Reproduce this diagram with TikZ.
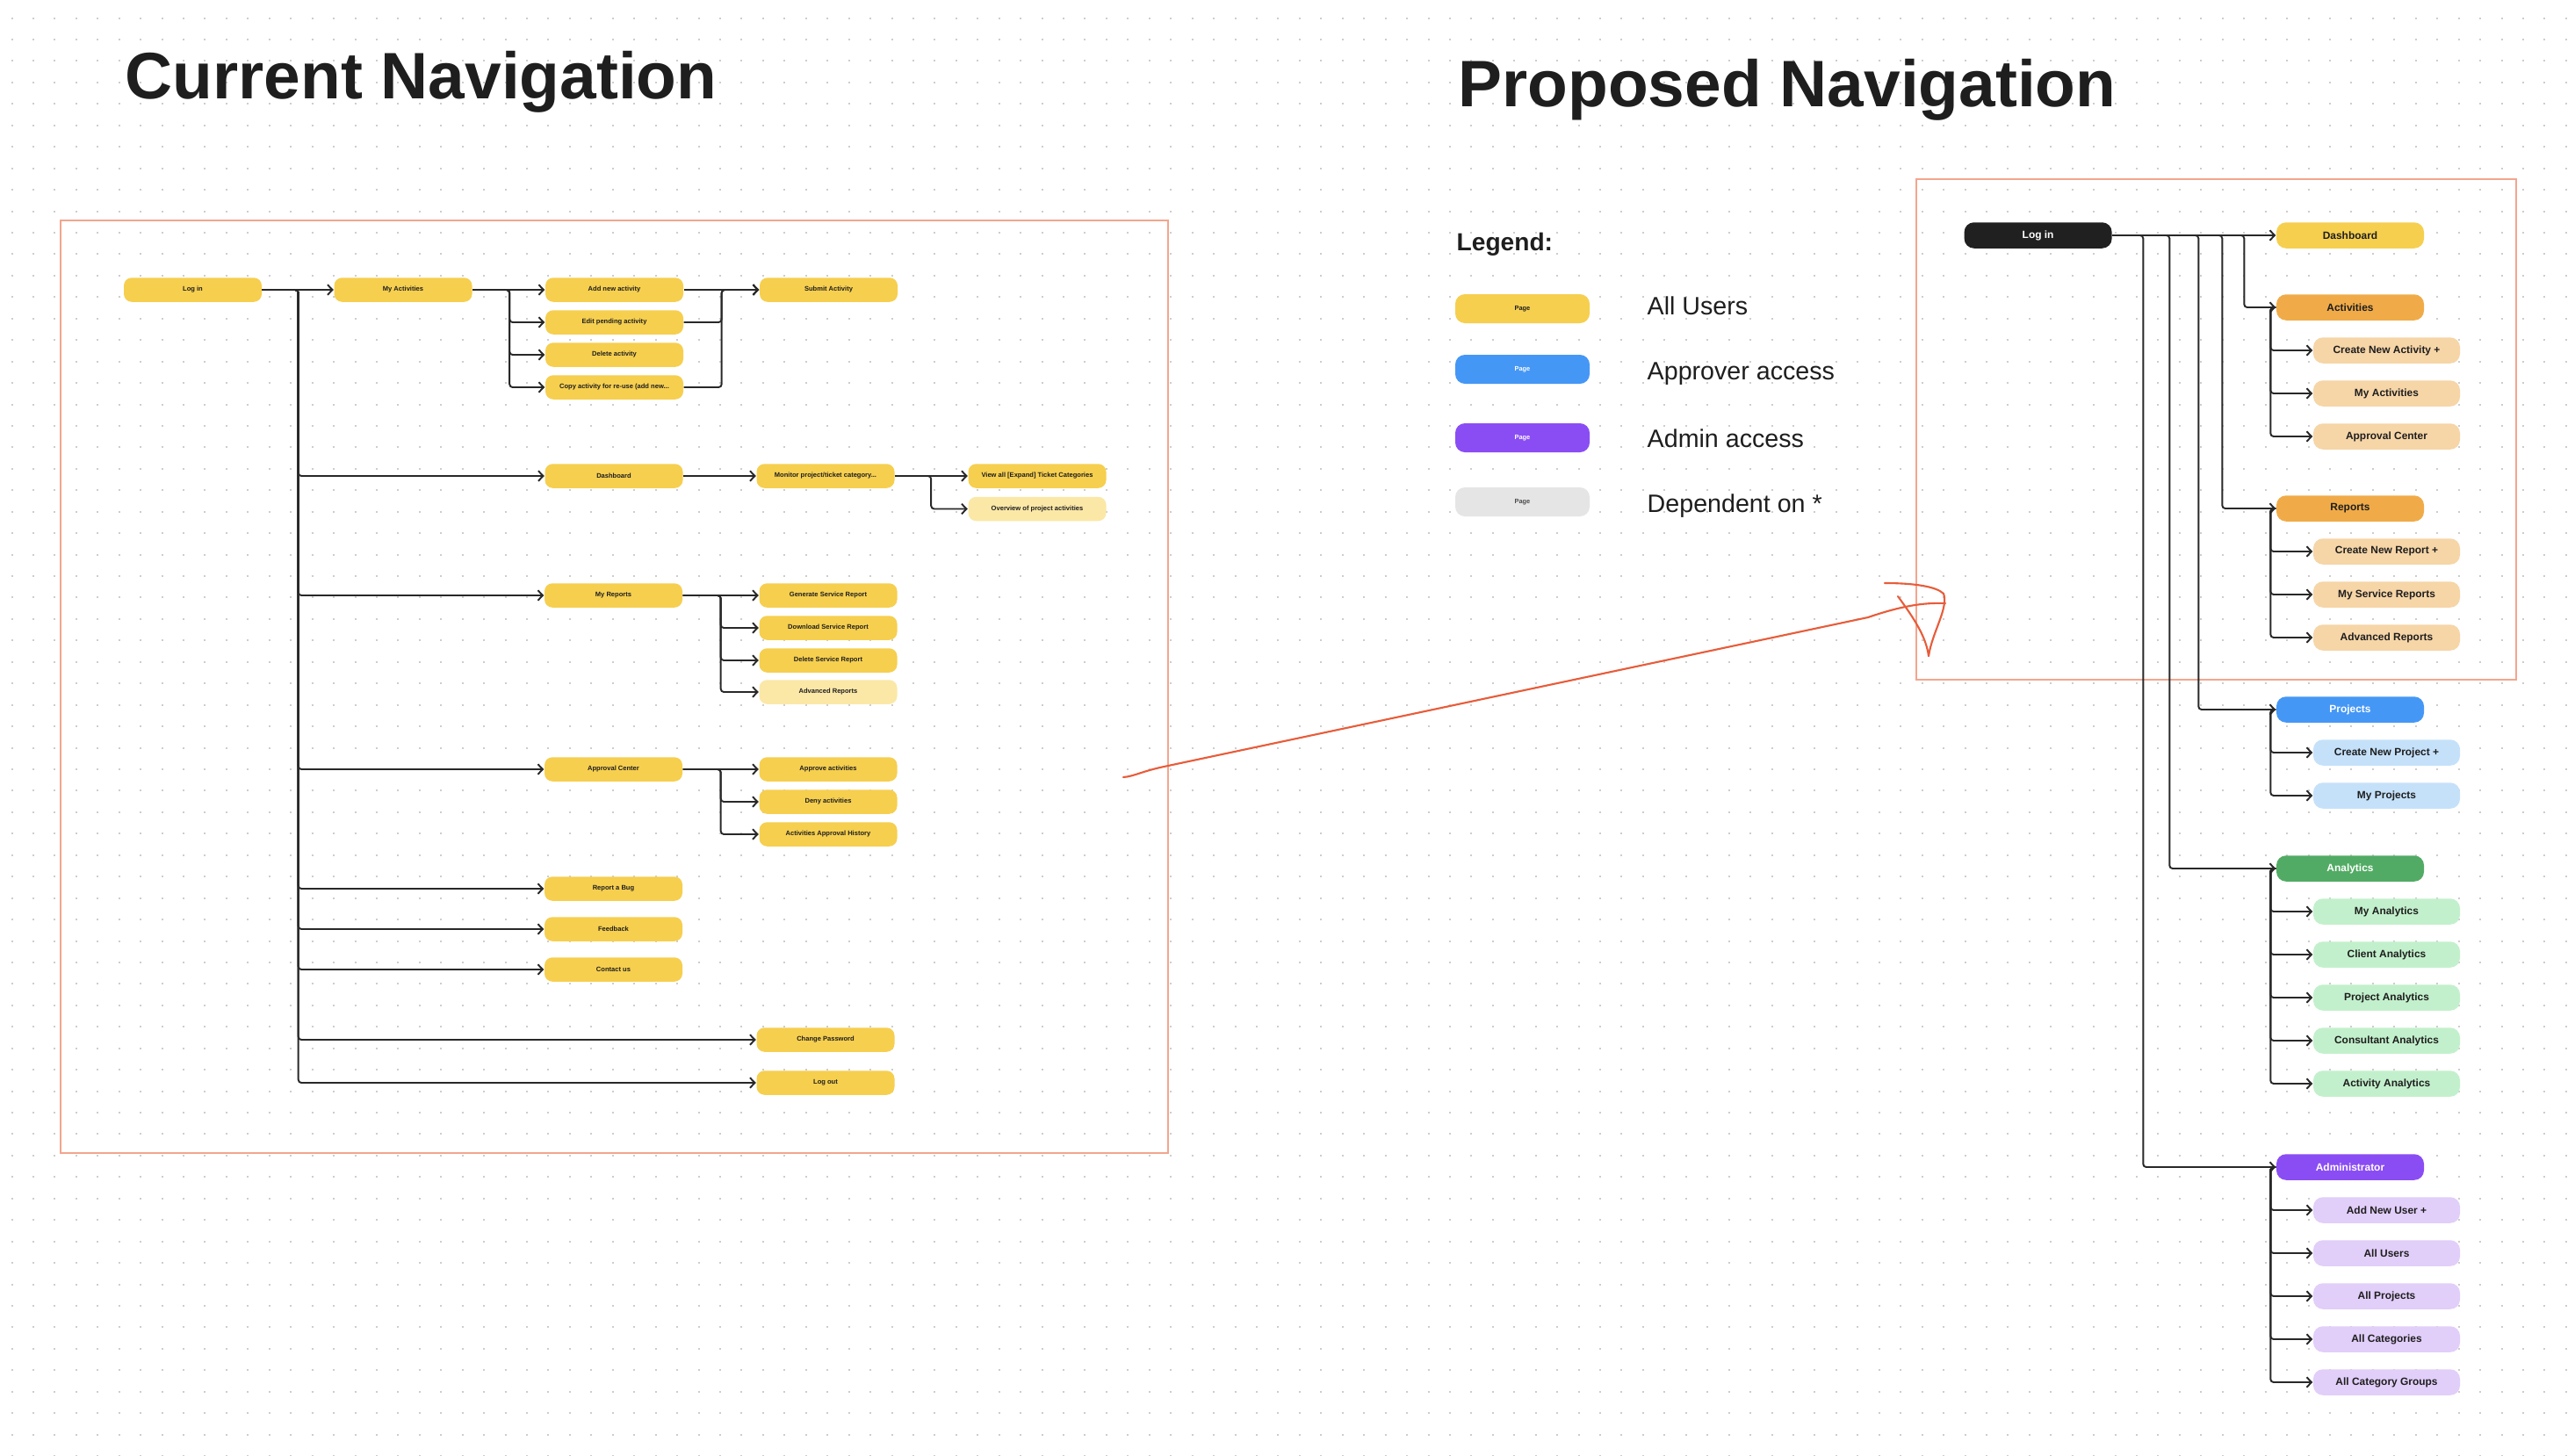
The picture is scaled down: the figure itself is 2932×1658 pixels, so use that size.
\documentclass[tikz,border=0pt]{standalone}
\usepackage{fontspec}
\setmainfont{Liberation Sans}
\usepackage{tikz}
\usetikzlibrary{
	arrows.meta,
	calc,
	positioning
}
\definecolor{PageYellow}{RGB}{246,207,79}
\definecolor{PageLight}{RGB}{251,232,167}
\definecolor{NavBlack}{RGB}{32,32,32}
\definecolor{ActOrange}{RGB}{240,171,72}
\definecolor{ActLight}{RGB}{246,213,167}
\definecolor{ProjBlue}{RGB}{69,151,246}
\definecolor{ProjLight}{RGB}{197,225,250}
\definecolor{AnaGreen}{RGB}{82,171,100}
\definecolor{AnaLight}{RGB}{195,240,204}
\definecolor{AdmPurple}{RGB}{138,77,244}
\definecolor{AdmLight}{RGB}{225,206,249}
\definecolor{KeyGray}{RGB}{229,229,229}
\definecolor{FrameRed}{RGB}{243,165,142}
\definecolor{ScribbleRed}{RGB}{232,92,58}
\definecolor{LineDark}{RGB}{40,40,40}
\definecolor{TextDark}{RGB}{30,30,30}
\definecolor{DotGray}{RGB}{205,205,205}

\begin{document}
\begin{tikzpicture}[x=0.1mm, y=-0.1mm,
		>={Straight Barb[length=0.55mm,width=1.15mm]},
		conn/.style={->, line width=0.55pt, draw=LineDark, rounded corners=0.35mm},
		oldpage/.style={fill=PageYellow, rounded corners=0.9mm, minimum width=15.7mm, minimum height=2.75mm, inner sep=0pt, text=TextDark, font=\fontsize{2.15pt}{2.5pt}\selectfont\bfseries},
		oldlight/.style={oldpage, fill=PageLight},
		newhead/.style={rounded corners=1.1mm, minimum width=16.8mm, minimum height=2.95mm, inner sep=0pt, text=TextDark, font=\fontsize{3.4pt}{4pt}\selectfont\bfseries},
		newsub/.style={newhead, minimum width=16.7mm},
		keybox/.style={rounded corners=1.1mm, minimum width=15.3mm, minimum height=3.3mm, inner sep=0pt, font=\fontsize{2.1pt}{2.5pt}\selectfont\bfseries},
		keytext/.style={anchor=base west, inner sep=0pt, text=TextDark, font=\fontsize{8.15pt}{9.6pt}\selectfont},
		bigtitle/.style={anchor=base west, inner sep=0pt, text=TextDark, font=\fontsize{21.3pt}{25pt}\selectfont\bfseries}
	]
	\useasboundingbox (0,0) rectangle (2932,1658);
	\fill[white] (0,0) rectangle (2932,1658);
	
	% canvas dots
	\foreach \j in {0,...,67}
		\draw[DotGray, line width=0.2mm, dash pattern=on 0.2mm off 2.244mm] (12.5,20.6+24.44*\j) -- (2932,20.6+24.44*\j);
	
	% titles
	\node[bigtitle] (tcur) at (142,112) {Current Navigation};
	\node[bigtitle] (tnew) at (1660,121) {Proposed Navigation};
	
	% frames and scribble
	\draw[FrameRed, line width=0.4pt] (69,251) rectangle (1330,1313);
	\draw[FrameRed, line width=0.4pt] (2182,204) rectangle (2865,774);
	\draw[ScribbleRed, line width=0.6pt, line cap=round] (1279,885) .. controls (1292,884) and (1300,878) .. (1330,872) -- (2127,703) .. controls (2165,690) and (2190,686) .. (2215,687);
	\draw[ScribbleRed, line width=0.6pt, line cap=round] (2146,664) .. controls (2180,664) and (2205,668) .. (2213,676) .. controls (2219,692) and (2200,720) .. (2196,747);
	\draw[ScribbleRed, line width=0.6pt, line cap=round] (2161,679) .. controls (2180,705) and (2193,725) .. (2196,747);
	
	% current navigation
	\node[oldpage] (login) at (219.5,330) {Log in};
	\node[oldpage] (myact) at (459,330) {My Activities};
	\node[oldpage] (addact) at (699.5,330) {Add new activity};
	\node[oldpage] (editact) at (699.5,367) {Edit pending activity};
	\node[oldpage] (delact) at (699.5,404) {Delete activity};
	\node[oldpage] (copyact) at (699.5,441) {Copy activity for re-use (add new...};
	\node[oldpage] (submit) at (943.5,330) {Submit Activity};
	
	\node[oldpage] (dash) at (699,542) {Dashboard};
	\node[oldpage] (monitor) at (940,542) {Monitor project/ticket category...};
	\node[oldpage] (viewall) at (1181,542) {View all [Expand] Ticket Categories};
	\node[oldlight] (overview) at (1181,579.5) {Overview of project activities};
	
	\node[oldpage] (myrep) at (698.5,678) {My Reports};
	\node[oldpage] (genrep) at (943,678) {Generate Service Report};
	\node[oldpage] (dlrep) at (943,715) {Download Service Report};
	\node[oldpage] (delrep) at (943,752) {Delete Service Report};
	\node[oldlight] (advrep) at (943,788) {Advanced Reports};
	
	\node[oldpage] (appc) at (698.5,876) {Approval Center};
	\node[oldpage] (appr) at (943,876) {Approve activities};
	\node[oldpage] (deny) at (943,913) {Deny activities};
	\node[oldpage] (hist) at (943,950) {Activities Approval History};
	
	\node[oldpage] (bug) at (698.5,1012) {Report a Bug};
	\node[oldpage] (feedback) at (698.5,1058) {Feedback};
	\node[oldpage] (contact) at (698.5,1104) {Contact us};
	\node[oldpage] (chpw) at (940,1184) {Change Password};
	\node[oldpage] (logout) at (940,1233) {Log out};
	
	% current links
	\draw[conn] (login.east) -- (myact.west);
	\foreach \t in {dash,myrep,appc,bug,feedback,contact,chpw,logout}
		\draw[conn] (login.east) -- ++(41,0) |- (\t.west);
	\draw[conn] (myact.east) -- (addact.west);
	\foreach \t in {editact,delact,copyact}
		\draw[conn] (myact.east) -- ++(42,0) |- (\t.west);
	\draw[conn] (addact.east) -- (submit.west);
	\foreach \t in {editact,copyact}
		\draw[conn] (\t.east) -- ++(43,0) |- (submit.west);
	\draw[conn] (dash.east) -- (monitor.west);
	\draw[conn] (monitor.east) -- (viewall.west);
	\draw[conn] (monitor.east) -- ++(41,0) |- (overview.west);
	\draw[conn] (myrep.east) -- (genrep.west);
	\foreach \t in {dlrep,delrep,advrep}
		\draw[conn] (myrep.east) -- ++(43,0) |- (\t.west);
	\draw[conn] (appc.east) -- (appr.west);
	\foreach \t in {deny,hist}
		\draw[conn] (appc.east) -- ++(43,0) |- (\t.west);
	
	% legend
	\node[anchor=base west, inner sep=0pt, text=TextDark, font=\fontsize{8pt}{9.6pt}\selectfont\bfseries] (legend) at (1658,285) {Legend:};
	\node[keybox, fill=PageYellow, text=TextDark] (kall) at (1733.5,351.5) {Page};
	\node[keybox, fill=ProjBlue, text=white] (kapp) at (1733.5,420.5) {Page};
	\node[keybox, fill=AdmPurple, text=white] (kadm) at (1733.5,498.5) {Page};
	\node[keybox, fill=KeyGray, text=TextDark!80] (kdep) at (1733.5,571.5) {Page};
	\node[keytext] (lall) at (1875,358) {All Users};
	\node[keytext] (lapp) at (1875,432) {Approver access};
	\node[keytext] (ladm) at (1875,509) {Admin access};
	\node[keytext] (ldep) at (1875,583) {Dependent on *};
	
	% proposed navigation
	\node[newhead, fill=NavBlack, text=white] (rlogin) at (2320.6,268) {Log in};
	\node[newhead, fill=PageYellow] (rdash) at (2676,268) {Dashboard};
	
	\node[newhead, fill=ActOrange] (racts) at (2676,350) {Activities};
	\node[newsub, fill=ActLight] (ra1) at (2717.5,399) {Create New Activity +};
	\node[newsub, fill=ActLight] (ra2) at (2717.5,448) {My Activities};
	\node[newsub, fill=ActLight] (ra3) at (2717.5,497) {Approval Center};
	
	\node[newhead, fill=ActOrange] (rreps) at (2676,579) {Reports};
	\node[newsub, fill=ActLight] (rr1) at (2717.5,628) {Create New Report +};
	\node[newsub, fill=ActLight] (rr2) at (2717.5,677) {My Service Reports};
	\node[newsub, fill=ActLight] (rr3) at (2717.5,726) {Advanced Reports};
	
	\node[newhead, fill=ProjBlue, text=white] (rproj) at (2676,808) {Projects};
	\node[newsub, fill=ProjLight] (rp1) at (2717.5,857) {Create New Project +};
	\node[newsub, fill=ProjLight] (rp2) at (2717.5,906) {My Projects};
	
	\node[newhead, fill=AnaGreen, text=white] (ranal) at (2676,989) {Analytics};
	\node[newsub, fill=AnaLight] (rn1) at (2717.5,1038) {My Analytics};
	\node[newsub, fill=AnaLight] (rn2) at (2717.5,1087) {Client Analytics};
	\node[newsub, fill=AnaLight] (rn3) at (2717.5,1136) {Project Analytics};
	\node[newsub, fill=AnaLight] (rn4) at (2717.5,1185) {Consultant Analytics};
	\node[newsub, fill=AnaLight] (rn5) at (2717.5,1234) {Activity Analytics};
	
	\node[newhead, fill=AdmPurple, text=white] (radm) at (2676,1329) {Administrator};
	\node[newsub, fill=AdmLight] (rd1) at (2717.5,1378) {Add New User +};
	\node[newsub, fill=AdmLight] (rd2) at (2717.5,1427) {All Users};
	\node[newsub, fill=AdmLight] (rd3) at (2717.5,1476) {All Projects};
	\node[newsub, fill=AdmLight] (rd4) at (2717.5,1525) {All Categories};
	\node[newsub, fill=AdmLight] (rd5) at (2717.5,1574) {All Category Groups};
	
	% proposed links
	\draw[conn] (rlogin.east) -- (rdash.west);
	\draw[conn] (rlogin.east) -- ++(150,0) |- (racts.west);
	\draw[conn] (rlogin.east) -- ++(125,0) |- (rreps.west);
	\draw[conn] (rlogin.east) -- ++(98,0) |- (rproj.west);
	\draw[conn] (rlogin.east) -- ++(65,0) |- (ranal.west);
	\draw[conn] (rlogin.east) -- ++(35,0) |- (radm.west);
	\foreach \t in {ra1,ra2,ra3}
		\draw[conn] (racts.west) -- ++(-6,0) |- (\t.west);
	\foreach \t in {rr1,rr2,rr3}
		\draw[conn] (rreps.west) -- ++(-6,0) |- (\t.west);
	\foreach \t in {rp1,rp2}
		\draw[conn] (rproj.west) -- ++(-6,0) |- (\t.west);
	\foreach \t in {rn1,rn2,rn3,rn4,rn5}
		\draw[conn] (ranal.west) -- ++(-6,0) |- (\t.west);
	\foreach \t in {rd1,rd2,rd3,rd4,rd5}
		\draw[conn] (radm.west) -- ++(-6,0) |- (\t.west);
\end{tikzpicture}
\end{document}
